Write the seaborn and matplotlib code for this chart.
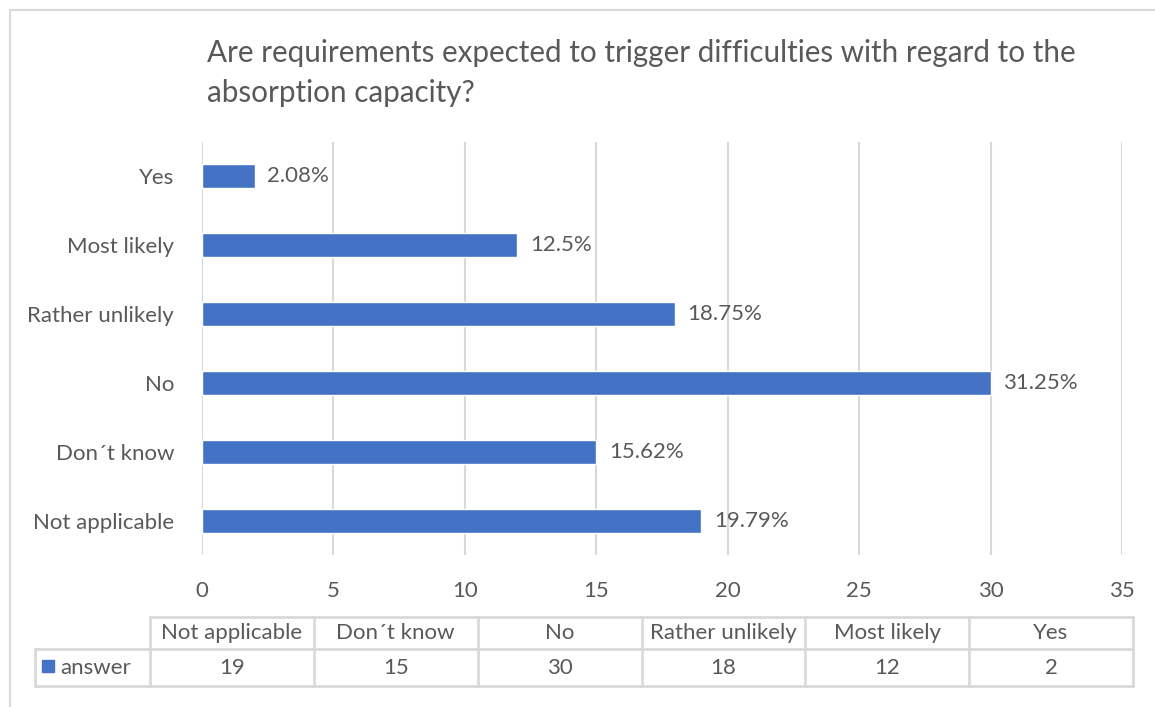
import matplotlib
matplotlib.use("Agg")
import matplotlib.pyplot as plt
import seaborn as sns
import pandas as pd

# data
answers = ["Not applicable", "Don\u00b4t know", "No", "Rather unlikely", "Most likely", "Yes"]
counts = [19, 15, 30, 18, 12, 2]
percents = ["19.79%", "15.62%", "31.25%", "18.75%", "12.5%", "2.08%"]
series_name = "answer"
title = "Are requirements expected to trigger difficulties with regard to the\nabsorption capacity?"
x_ticks = [0, 5, 10, 15, 20, 25, 30, 35]

df = pd.DataFrame({"answer": answers, "count": counts, "pct": percents})
order = answers[::-1]  # Yes at the top

sns.set_theme(style="white")
plt.rcParams["font.family"] = ["Lato", "DejaVu Sans"]

BLUE = "#4472C4"
GREY_TXT = "#595959"
GRID = "#D9D9D9"
FS = 16

W, H = 1155, 707
fig = plt.figure(figsize=(W / 100, H / 100), dpi=100)
fig.patch.set_facecolor("white")

ax = fig.add_axes([202 / W, 1 - 555 / H, 920 / W, 413 / H])
sns.barplot(data=df, x="count", y="answer", order=order, color=BLUE,
            width=0.35, saturation=1, ax=ax)

ax.set_xlim(0, 35)
ax.set_xticks(x_ticks)
ax.xaxis.grid(True, color=GRID, linewidth=1.5)
ax.yaxis.grid(False)
ax.set_axisbelow(True)
for s in ax.spines.values():
    s.set_visible(False)
ax.set_xlabel("")
ax.set_ylabel("")
ax.tick_params(axis="x", length=0, pad=19, labelsize=FS, labelcolor=GREY_TXT)
ax.tick_params(axis="y", length=0, pad=20, labelsize=FS, labelcolor=GREY_TXT)

pct_by_answer = dict(zip(answers, percents))
ax.bar_label(ax.containers[0], labels=[pct_by_answer[a] for a in order],
             padding=9, fontsize=FS, color=GREY_TXT)

# overlay in pixel coordinates for title, frame and data table
ov = fig.add_axes([0, 0, 1, 1], zorder=-1)
ov.set_xlim(0, W)
ov.set_ylim(H, 0)
ov.axis("off")

ov.text(207, 73, title, ha="left", va="center", fontsize=21.3,
        color=GREY_TXT, linespacing=1.55)

# outer chart frame (right/bottom edges are cut off)
ov.plot([10, 10], [10, H], color=GRID, lw=1.5)
ov.plot([10, W], [10, 10], color=GRID, lw=1.5)

# data table
col_left = 150
col_w = (1133 - 150) / len(answers)
y0, y1, y2 = 617, 649, 686
lc = dict(color=GRID, lw=2)
ov.plot([col_left, col_left + col_w * len(answers)], [y0, y0], **lc)
ov.plot([35, col_left + col_w * len(answers)], [y1, y1], **lc)
ov.plot([35, col_left + col_w * len(answers)], [y2, y2], **lc)
ov.plot([35, 35], [y1, y2], **lc)
for i in range(len(answers) + 1):
    xx = col_left + i * col_w
    ov.plot([xx, xx], [y0, y2], **lc)
for i, (a, c) in enumerate(zip(answers, counts)):
    cx = col_left + (i + 0.5) * col_w
    ov.text(cx, (y0 + y1) / 2, a, ha="center", va="center", fontsize=FS, color=GREY_TXT)
    ov.text(cx, (y1 + y2) / 2, str(c), ha="center", va="center", fontsize=FS, color=GREY_TXT)

ov.add_patch(plt.Rectangle((42, 660), 12, 12, color=BLUE))
ov.text(60, (y1 + y2) / 2, series_name, ha="left", va="center", fontsize=FS, color=GREY_TXT)

fig.savefig("out.png", dpi=100, facecolor="white")
